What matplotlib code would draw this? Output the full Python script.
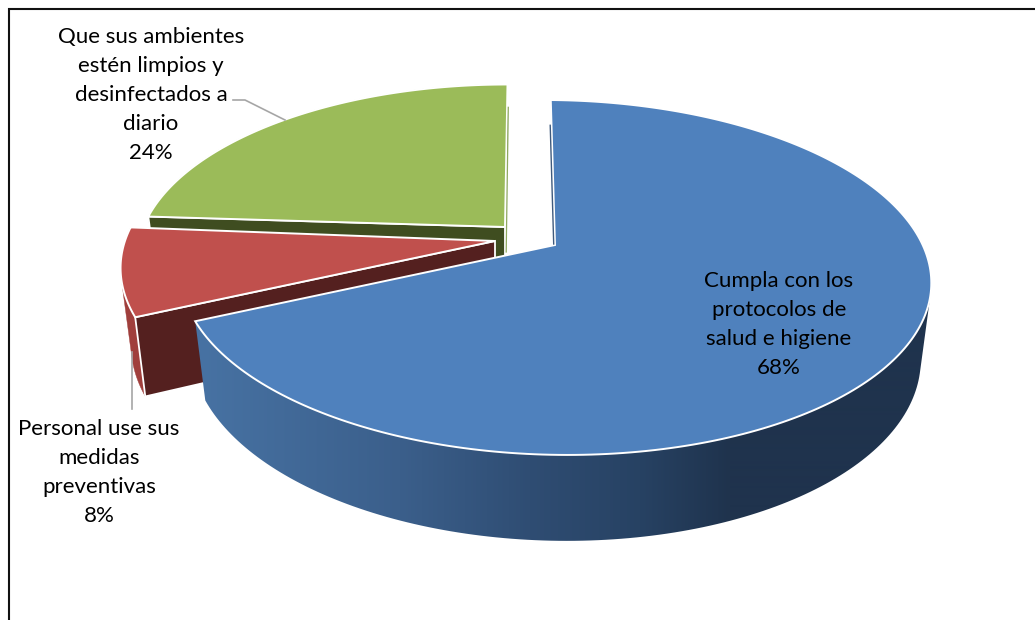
import numpy as np
import matplotlib
matplotlib.use("Agg")
import matplotlib.pyplot as plt
from matplotlib.patches import Polygon

plt.rcParams['font.family'] = ['Lato', 'DejaVu Sans']

# Data
categories = ["Cumpla con los\nprotocolos de\nsalud e higiene",
              "Personal use sus\nmedidas\npreventivas",
              "Que sus ambientes\nestén limpios y\ndesinfectados a\ndiario"]
values = [68, 8, 24]

# Styles
top_colors = ["#4f81bd", "#c0504d", "#9bbb59"]
rim_colors = ["#1f3550", "#a03f3c", "#5f7536"]
wall_colors = ["#1f3550", "#54201f", "#3f4d20"]
apex_x = [555, 495, 505]
apex_y = [245, 241, 227]
radius = [1.0, 1.0, 0.98]
shear = [-5.0, -5.0, 3.0]
tilt = [3.0, 3.0, 0.0]

# Perspective of the pie (pixels)
A, K, P = 369.0, 171.5, 0.183
SHRINK, DEPTH = 0.028, 75.0

# Horizontal gradient on the blue rim
grad_x = [200, 400, 530, 640, 730, 930]
grad_rgb = np.array([[0x47, 0x72, 0xa3], [0x3b, 0x5f, 0x8b], [0x2f, 0x4d, 0x73],
                     [0x27, 0x42, 0x63], [0x1f, 0x33, 0x4d], [0x1f, 0x33, 0x4d]]) / 255

W, H = 1035, 620
fig = plt.figure(figsize=(W / 100, H / 100), dpi=100, facecolor="white")
ax = fig.add_axes([0, 0, 1, 1])
ax.set_xlim(0, W)
ax.set_ylim(H, 0)
ax.axis("off")


def project(i, theta, r=None, z=0.0):
    """theta in degrees clockwise from the back of the pie; z=1 is the bottom."""
    r = radius[i] if r is None else r
    t = np.radians(theta)
    X, Y = r * np.sin(t), r * np.cos(t)
    w = 1 + P * Y
    s = 1 - SHRINK * z
    return (apex_x[i] + s * (A * X + shear[i] * Y) / w,
            apex_y[i] + s * (-K * Y + tilt[i] * X) / w + DEPTH * z / w)


def hull(points):
    """Convex hull (monotone chain) of an Nx2 array."""
    pts = sorted(map(tuple, points))

    def half(seq):
        out = []
        for p in seq:
            while len(out) >= 2 and ((out[-1][0] - out[-2][0]) * (p[1] - out[-2][1])
                                     - (out[-1][1] - out[-2][1]) * (p[0] - out[-2][0])) <= 0:
                out.pop()
            out.append(p)
        return out[:-1]

    return np.array(half(pts) + half(pts[::-1]))


# Slice angle ranges
edges = np.cumsum([0] + values) * 3.6
zo = 1

# Back-to-front drawing order: green, red, blue
for i in [2, 1, 0]:
    t0, t1 = edges[i], edges[i + 1]
    ts = np.linspace(t0, t1, 240)
    xs, ys = project(i, ts)
    vis = ts[ts >= 75.0]
    rx, ry = project(i, vis)
    bx, by = project(i, vis, z=1)
    rim = hull(np.column_stack([np.r_[rx, bx], np.r_[ry, by]]))

    # Outer rim
    if i == 0:
        gx = np.arange(0, W)
        img = np.stack([np.interp(gx, grad_x, grad_rgb[:, c]) for c in range(3)], axis=1)[None, :, :]
        im = ax.imshow(img, extent=(0, W, H, 0), aspect="auto", zorder=zo,
                       interpolation="bilinear")
        clip = Polygon(rim, closed=True, transform=ax.transData, facecolor="none",
                       edgecolor="none")
        ax.add_patch(clip)
        im.set_clip_path(clip)
        ax.set_xlim(0, W)
        ax.set_ylim(H, 0)
    else:
        ax.add_patch(Polygon(rim, closed=True, facecolor=rim_colors[i],
                             edgecolor=rim_colors[i], lw=0.3, zorder=zo))
    zo += 1

    # Radial wall at the start of the slice
    if i != 0:
        xa, ya = project(i, t0, r=0.0)
        xe, ye = project(i, t0, r=0.0, z=1)
        xc, yc = project(i, t0, z=1)
        xd, yd = project(i, t0)
        ax.add_patch(Polygon([(xa, ya), (xe, ye), (xc, yc), (xd, yd)],
                             closed=True, facecolor=wall_colors[i],
                             edgecolor="white", lw=1.3, joinstyle="miter", zorder=zo))
        zo += 1

    # Top surface
    ax_, ay_ = project(i, t0, r=0.0)
    pts = [(ax_, ay_)] + list(zip(xs, ys))
    ax.add_patch(Polygon(pts, closed=True, facecolor=top_colors[i],
                         edgecolor="white", lw=1.4, joinstyle="miter", zorder=zo))
    zo += 1

# Thin glimpses of the walls that face the gap
x0, y0 = project(0, 0.0, r=0.0)
x1, y1 = project(0, 0.0, r=0.8)
ax.plot([x0 - 1.3, x1 - 1.3], [y0 - 1, y1], color="#3f5a7d", lw=1.0, zorder=zo)
x0, y0 = project(2, 360.0, r=0.0)
x1, y1 = project(2, 360.0, r=0.8)
ax.plot([x0 + 1.2, x1 + 1.2], [y0 + 25, y1], color="#8fa860", lw=0.9, zorder=zo)

# Leader lines
ax.plot([233, 245, 285], [100, 100, 120], color="#a6a6a6", lw=1.2, zorder=zo)
ax.plot([132, 132], [352, 409], color="#a6a6a6", lw=1.2, zorder=zo)

# Labels
label_pos = [(779, 324.5), (99, 472.5), (151, 95)]
for cat, val, (lx, ly) in zip(categories, values, label_pos):
    ax.text(lx, ly, f"{cat}\n{val}%", ha="center", va="center", fontsize=16,
            color="#000000", linespacing=1.55, zorder=zo + 1)

# Outer frame
ax.plot([9, 9, W], [H, 9, 9], color="#111111", lw=1.5, zorder=zo + 2,
        solid_joinstyle="miter")

fig.savefig("out.png", dpi=100, facecolor="white")
